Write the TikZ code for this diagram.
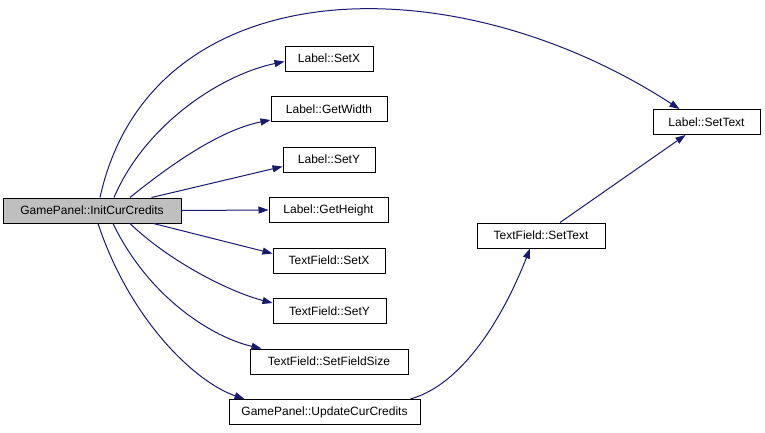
\documentclass[tikz,border=0pt]{standalone}
\usepackage{fontspec}
\setmainfont{Liberation Sans}
\usepackage{tikz}
\usetikzlibrary{arrows.meta, positioning, calc}
\definecolor{edgeblue}{HTML}{191970}
\definecolor{rootgray}{HTML}{BFBFBF}

\begin{document}
\begin{tikzpicture}[x=1pt, y=-1pt,
  fn/.style={draw=black, line width=1pt, fill=white, minimum height=25pt, inner sep=0pt, font=\fontsize{12}{14}\selectfont},
  call/.style={draw=edgeblue, line width=1pt, -{Triangle[length=10pt, width=7pt]}}]
\useasboundingbox (0,0) rectangle (765,432);
% Functions
\node[fn, fill=rootgray, minimum width=178pt] (init) at (92,210.5) {GamePanel::InitCurCredits};
\node[fn, minimum width=88pt] (lsetx) at (329,58.5) {Label::SetX};
\node[fn, minimum width=116pt] (lgetwidth) at (329,109) {Label::GetWidth};
\node[fn, minimum width=92pt] (lsety) at (329,159.5) {Label::SetY};
\node[fn, minimum width=119pt] (lgetheight) at (328.5,210) {Label::GetHeight};
\node[fn, minimum width=112pt] (tfsetx) at (329,260.5) {TextField::SetX};
\node[fn, minimum width=113pt] (tfsety) at (329.5,311) {TextField::SetY};
\node[fn, minimum width=158pt] (tfsize) at (329,361.5) {TextField::SetFieldSize};
\node[fn, minimum width=191pt] (update) at (324.5,412) {GamePanel::UpdateCurCredits};
\node[fn, minimum width=128pt] (tfsettext) at (541,235.5) {TextField::SetText};
\node[fn, minimum width=107pt] (lsettext) at (706.5,122) {Label::SetText};
% Calls from InitCurCredits
\draw[call] ($(init.north)+(8,0)$) .. controls (150,-30) and (450,-40) .. ($(lsettext.north west)+(27,0)$);
\draw[call] ($(init.north)+(22,0)$) .. controls (145,125) and (220,75) .. ($(lsetx.west)+(0,3)$);
\draw[call] ($(init.north)+(38,0)$) .. controls (170,165) and (220,130) .. ($(lgetwidth.south west)+(0,-2)$);
\draw[call] ($(init.north east)+(-30,0)$) -- ($(lsety.south west)+(0,-6)$);
\draw[call] (init.east) -- (lgetheight.west);
\draw[call] ($(init.south east)+(-28,0)$) -- ($(tfsetx.north west)+(0,6)$);
\draw[call] ($(init.south)+(38,0)$) .. controls (170,262) and (230,292) .. ($(tfsety.north west)+(0,5)$);
\draw[call] ($(init.south)+(21,0)$) .. controls (150,300) and (215,338) .. ($(tfsize.north west)+(12,0)$);
\draw[call] ($(init.south)+(6,0)$) .. controls (130,320) and (195,382) .. ($(update.north west)+(16,0)$);
% Nested calls
\draw[call] ($(update.north east)+(-10,0)$) .. controls (470,382) and (510,300) .. ($(tfsettext.south)+(-11,0)$);
\draw[call] ($(tfsettext.north)+(19,0)$) -- ($(lsettext.south)+(-21,0)$);
\end{tikzpicture}
\end{document}
